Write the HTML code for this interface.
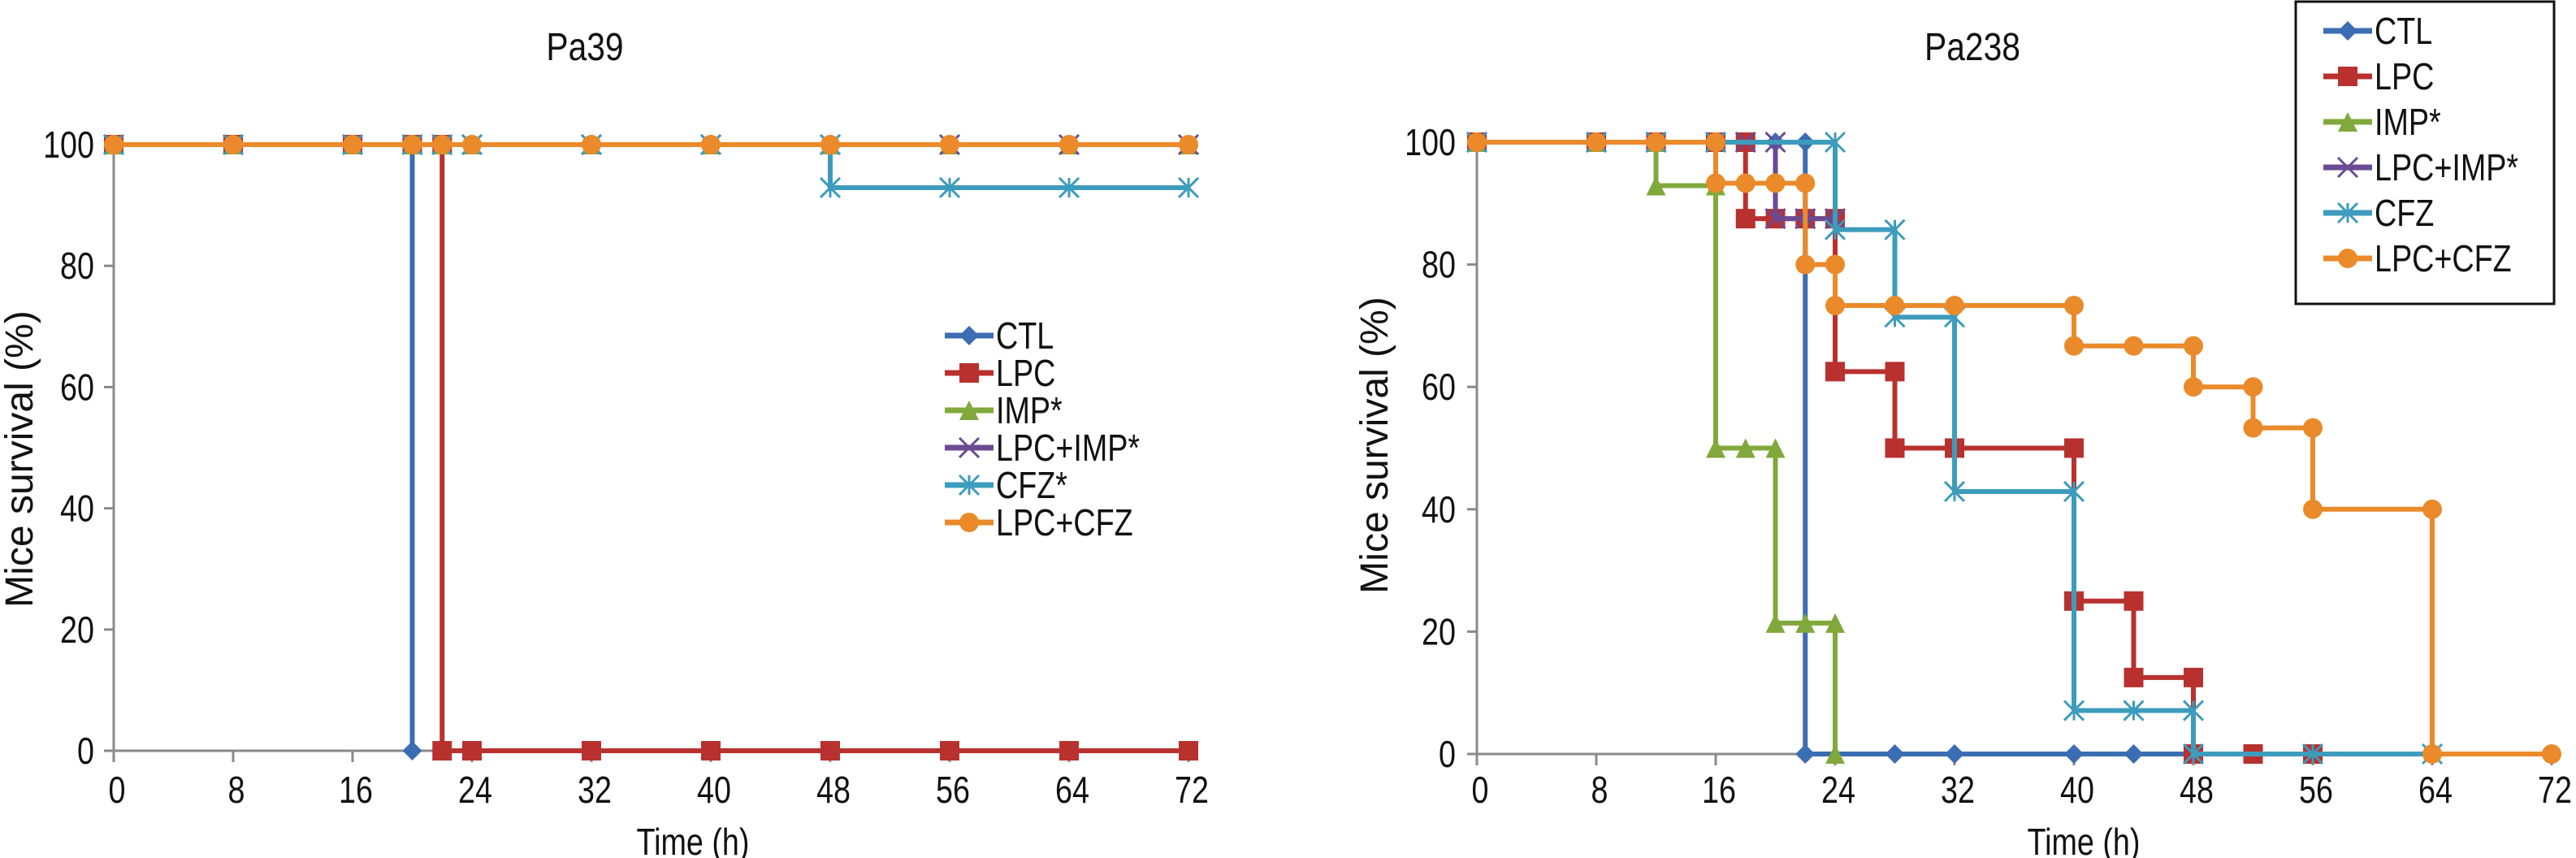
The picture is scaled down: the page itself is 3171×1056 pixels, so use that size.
<!DOCTYPE html>
<html><head><meta charset="utf-8"><style>
html,body{margin:0;padding:0;background:#fff;}
svg{display:block;}
text{font-family:"Liberation Sans",sans-serif;fill:#111;}
</style></head><body>
<svg id="chart" width="3171" height="1056" viewBox="0 0 3171 1056" xmlns="http://www.w3.org/2000/svg"></svg>
<script>
const seriesNames = ["CTL","LPC","IMP*","LPC+IMP*","CFZ*","LPC+CFZ"];
const seriesNamesRight = ["CTL","LPC","IMP*","LPC+IMP*","CFZ","LPC+CFZ"];
const colors = ["#3b6db3","#b8312f","#80a83b","#6a4a92","#3d9cbc","#ea8a2a"];
const markers = ["diamond","square","triangle","x","star","circle"];
const xTicks = [0,8,16,24,32,40,48,56,64,72];
const yTicks = [0,20,40,60,80,100];

// Pa39 (left)
const L_ctl_t = [0,8,16,20,20];           const L_ctl_v = [100,100,100,100,0];
const L_lpc_t = [0,8,16,20,22,22,24,32,40,48,56,64,72]; const L_lpc_v = [100,100,100,100,100,0,0,0,0,0,0,0,0];
const L_imp_t = [0,8,16,20,22,24,32,40,48,56,64,72]; const L_imp_v = [100,100,100,100,100,100,100,100,100,100,100,100];
const L_lpcimp_t = [0,8,16,20,22,24,32,40,48,56,64,72]; const L_lpcimp_v = [100,100,100,100,100,100,100,100,100,100,100,100];
const L_cfz_t = [0,8,16,20,22,24,32,40,48,48,56,64,72]; const L_cfz_v = [100,100,100,100,100,100,100,100,100,92.9,92.9,92.9,92.9];
const L_lpccfz_t = [0,8,16,20,22,24,32,40,48,56,64,72]; const L_lpccfz_v = [100,100,100,100,100,100,100,100,100,100,100,100];

// Pa238 (right)
const R_ctl_t = [0,8,12,16,18,20,22,22,28,32,40,44,48]; const R_ctl_v = [100,100,100,100,100,100,100,0,0,0,0,0,0];
const R_lpc_t = [0,8,12,16,18,18,20,22,24,24,28,28,32,40,40,44,44,48,48,52,56];
const R_lpc_v = [100,100,100,100,100,87.5,87.5,87.5,87.5,62.5,62.5,50,50,50,25,25,12.5,12.5,0,0,0];
const R_imp_t = [0,8,12,12,16,16,18,20,20,22,24,24]; const R_imp_v = [100,100,100,92.9,92.9,50,50,50,21.4,21.4,21.4,0];
const R_lpcimp_t = [0,8,12,16,18,20,20,22,24]; const R_lpcimp_v = [100,100,100,100,100,100,87.5,87.5,87.5];
const R_cfz_t = [0,8,12,16,24,24,28,28,32,32,40,40,44,48,48,56,64];
const R_cfz_v = [100,100,100,100,100,85.7,85.7,71.4,71.4,42.9,42.9,7.1,7.1,7.1,0,0,0];
const R_lpccfz_t = [0,8,12,16,16,18,20,22,22,24,24,28,32,40,40,44,48,48,52,52,56,56,64,64,72];
const R_lpccfz_v = [100,100,100,100,93.3,93.3,93.3,93.3,80,80,73.3,73.3,73.3,73.3,66.7,66.7,66.7,60,60,53.3,53.3,40,40,0,0];

const NS="http://www.w3.org/2000/svg";
const svg=document.getElementById('chart');
function mk(tag,attrs,parent){const e=document.createElementNS(NS,tag);for(const k in attrs)e.setAttribute(k,attrs[k]);(parent||svg).appendChild(e);return e;}

function drawChart(cfg){
  const g=mk('g',{});
  
  
  const xs=t=>cfg.x0+(t/72)*(cfg.x1-cfg.x0);
  const ys=v=>cfg.y0-(v/100)*(cfg.y0-cfg.y100);
  // axes
  const ax=mk('line',{x1:xs(0),y1:ys(100)-3,x2:xs(0),y2:ys(0),stroke:'#8a8a8a','stroke-width':3},g);
  
  const bx=mk('line',{x1:xs(0)-12,y1:ys(0),x2:xs(72),y2:ys(0),stroke:'#8a8a8a','stroke-width':3},g);
  
  yTicks.forEach(v=>{
    mk('line',{x1:xs(0)-12,y1:ys(v),x2:xs(0),y2:ys(v),stroke:'#8a8a8a','stroke-width':3},g);
    const t=mk('text',{x:cfg.ylx,y:ys(v)+16,'text-anchor':'end','font-size':46,transform:`translate(${cfg.ylx},0) scale(0.82,1) translate(${-cfg.ylx},0)`},g);
    t.textContent=v;
  });
  xTicks.forEach(v=>{
    mk('line',{x1:xs(v),y1:ys(0),x2:xs(v),y2:ys(0)+14,stroke:'#8a8a8a','stroke-width':3},g);
    const cx=xs(v)+4;
    const t=mk('text',{x:cx,y:988,'text-anchor':'middle','font-size':46,transform:`translate(${cx},0) scale(0.82,1) translate(${-cx},0)`},g);
    t.textContent=v;
  });
  const tt=mk('text',{x:cfg.titleX,y:74,'text-anchor':'middle','font-size':48,transform:`translate(${cfg.titleX},0) scale(0.85,1) translate(${-cfg.titleX},0)`},g);
  tt.textContent=cfg.title;
  const xt=mk('text',{x:cfg.xtX,y:1052,'text-anchor':'middle','font-size':46,transform:`translate(${cfg.xtX},0) scale(0.82,1) translate(${-cfg.xtX},0)`},g);
  xt.textContent='Time (h)';
  const yt=mk('text',{x:0,y:0,'text-anchor':'middle','font-size':48,transform:`translate(${cfg.ytX},${cfg.ytY}) rotate(-90)`},g);
  yt.textContent='Mice survival (%)';
  // series
  cfg.series.forEach((s,i)=>{
    const sg=mk('g',{},g);
    
    
    const pts=s.t.map((t,j)=>xs(t)+','+ys(s.v[j])).join(' ');
    mk('polyline',{points:pts,fill:'none',stroke:colors[i],'stroke-width':6,'stroke-linejoin':'miter'},sg);
    s.t.forEach((t,j)=>{
      const m=drawMarker(markers[i],xs(t),ys(s.v[j]),colors[i],sg);
      
      
    });
  });
  // legend
  const lg=mk('g',{},g);
  
  if(cfg.legBox){mk('rect',{x:cfg.legBox[0],y:cfg.legBox[1],width:cfg.legBox[2],height:cfg.legBox[3],fill:'#fff',stroke:'#111','stroke-width':3},lg);}
  cfg.names.forEach((n,i)=>{
    const y=cfg.legY+i*cfg.legDy;
    const e=mk('g',{},lg);
    
    mk('line',{x1:cfg.legX,y1:y,x2:cfg.legX+60,y2:y,stroke:colors[i],'stroke-width':7},e);
    drawMarker(markers[i],cfg.legX+30,y,colors[i],e);
    const tx=cfg.legX+63;
    const t=mk('text',{x:tx,y:y+16,'font-size':46,transform:`translate(${tx},0) scale(0.82,1) translate(${-tx},0)`},e);
    t.textContent=n;
  });
}
function drawMarker(type,x,y,c,p){
  const r=12;
  if(type==='diamond')return mk('polygon',{points:`${x},${y-r} ${x+r},${y} ${x},${y+r} ${x-r},${y}`,fill:c},p);
  if(type==='square')return mk('rect',{x:x-r,y:y-r,width:2*r,height:2*r,fill:c},p);
  if(type==='triangle')return mk('polygon',{points:`${x},${y-r} ${x+r},${y+r} ${x-r},${y+r}`,fill:c},p);
  if(type==='circle')return mk('circle',{cx:x,cy:y,r:r,fill:c},p);
  const g=mk('g',{stroke:c,'stroke-width':3},p);
  mk('line',{x1:x-r,y1:y-r,x2:x+r,y2:y+r},g);mk('line',{x1:x-r,y1:y+r,x2:x+r,y2:y-r},g);
  if(type==='star'){mk('line',{x1:x,y1:y-r,x2:x,y2:y+r},g);}
  return g;
}
drawChart({name:'pa39-chart',title:'Pa39',x0:140,x1:1463,y0:924,y100:178,ylx:116,titleX:720,xtX:853,ytX:40,ytY:565,
  names:seriesNames,legX:1163,legY:413,legDy:46,legBox:null,
  series:[{t:L_ctl_t,v:L_ctl_v},{t:L_lpc_t,v:L_lpc_v},{t:L_imp_t,v:L_imp_v},{t:L_lpcimp_t,v:L_lpcimp_v},{t:L_cfz_t,v:L_cfz_v},{t:L_lpccfz_t,v:L_lpccfz_v}]});
drawChart({name:'pa238-chart',title:'Pa238',x0:1818,x1:3141,y0:928,y100:175,ylx:1792,titleX:2428,xtX:2565,ytX:1708,ytY:548,
  names:seriesNamesRight,legX:2860,legY:38,legDy:56,legBox:[2826,2,318,372],
  series:[{t:R_ctl_t,v:R_ctl_v},{t:R_lpc_t,v:R_lpc_v},{t:R_imp_t,v:R_imp_v},{t:R_lpcimp_t,v:R_lpcimp_v},{t:R_cfz_t,v:R_cfz_v},{t:R_lpccfz_t,v:R_lpccfz_v}]});
</script>
</body></html>
